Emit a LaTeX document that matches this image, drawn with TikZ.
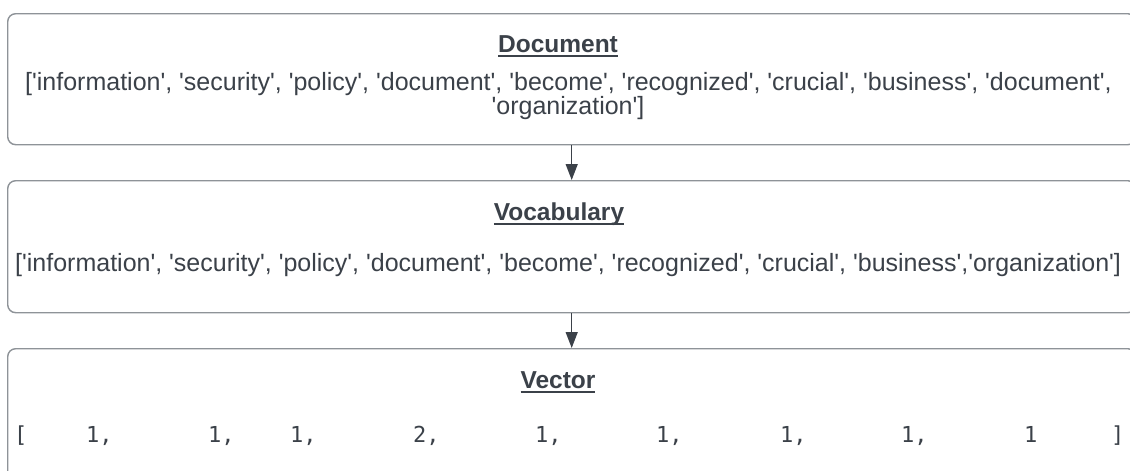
\documentclass[tikz,border=0pt]{standalone}
\usepackage{fontspec}
\setmainfont{Liberation Sans}[Ligatures=TeXOff]
\newfontfamily\numfont{DejaVu Sans Mono}
\usetikzlibrary{arrows.meta}
\definecolor{ink}{HTML}{3B4149}
\definecolor{frame}{HTML}{8E9398}
\newcommand\headline[1]{\setbox0\hbox{\bfseries #1}\rlap{\rule[-4.5pt]{\wd0}{2pt}}\box0}
\tikzset{
  x=1pt, y=-1pt,
  panel/.style={draw=frame, line width=1.4pt, rounded corners=8pt, fill=white,
                anchor=north west, minimum width=1128pt, inner sep=0pt},
  title/.style={text=ink, font=\fontsize{24.5}{28}\selectfont, anchor=base, inner sep=0pt},
  words/.style={text=ink, font=\fontsize{25}{28}\selectfont, inner sep=0pt},
  num/.style={text=ink, font=\numfont\fontsize{22}{24}\selectfont, anchor=base west, inner sep=0pt},
  flow/.style={draw=ink, line width=1.4pt, -{Triangle[length=16pt,width=12pt]}}
}
\begin{document}
\begin{tikzpicture}
\useasboundingbox (0,0) rectangle (1130,471);
\clip (0,0) rectangle (1130,471);

% three stacked panels
\node[panel, minimum height=131pt] (doc) at (7,13) {};
\node[panel, minimum height=132pt] (voc) at (7,180) {};
\node[panel, minimum height=140pt] (vec) at (7,348) {};

% connectors between panels
\draw[flow] (doc.south) -- (voc.north);
\draw[flow] (voc.south) -- (vec.north);

% document panel
\node[title] (doctitle) at (558,52) {\headline{Document}};
\node[words, anchor=base west] (docline1) at (25,90)
  {['information', 'security', 'policy', 'document', 'become', 'recognized', 'crucial', 'business', 'document',};
\node[words, anchor=base] (docline2) at (568,114) {'organization']};

% vocabulary panel
\node[title] (voctitle) at (559,220) {\headline{Vocabulary}};
\node[words, anchor=base west] (vocline) at (15,271)
  {['information', 'security', 'policy', 'document', 'become', 'recognized', 'crucial', 'business','organization']};

% vector panel
\node[title] (vectitle) at (558,388) {\headline{Vector}};
\node[num] (lb) at (14,442) {[};
\node[num] (v1) at (86,442) {1,};
\node[num] (v2) at (208,442) {1,};
\node[num] (v3) at (290,442) {1,};
\node[num] (v4) at (413,442) {2,};
\node[num] (v5) at (535,442) {1,};
\node[num] (v6) at (656,442) {1,};
\node[num] (v7) at (780,442) {1,};
\node[num] (v8) at (901,442) {1,};
\node[num] (v9) at (1024,442) {1};
\node[num] (rb) at (1111,442) {]};
\end{tikzpicture}
\end{document}
